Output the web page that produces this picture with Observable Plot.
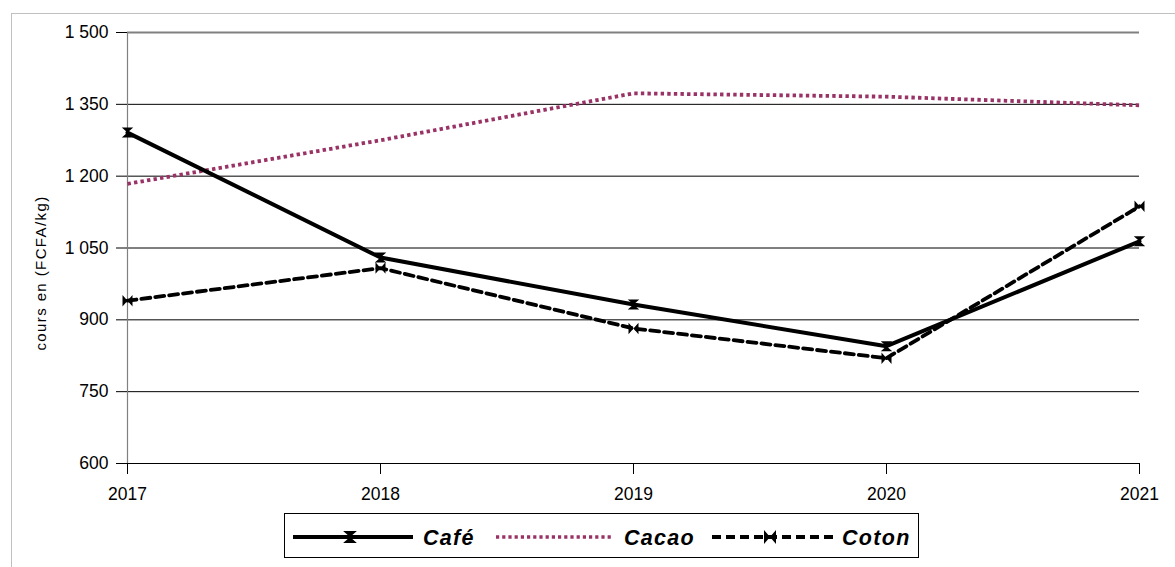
<!DOCTYPE html>
<html>
<head>
<meta charset="utf-8">
<script src="https://cdn.jsdelivr.net/npm/d3@7"></script>
<script src="https://cdn.jsdelivr.net/npm/@observablehq/plot@0.6"></script>
<style>
  html, body { margin: 0; padding: 0; background: #fff; }
  body { width: 1175px; height: 567px; overflow: hidden; position: relative; font-family: "Liberation Sans", Arial, sans-serif; }
  #frame { position: absolute; left: 11px; top: 13px; width: 1300px; height: 700px; border-left: 1px solid #c0c0c0; border-top: 1px solid #c0c0c0; }
  #chart { position: absolute; left: 0; top: 0; }
  #ytitle { position: absolute; left: 40px; top: 273px; transform: translate(-50%, -50%) rotate(-90deg); white-space: nowrap; font-size: 15px; letter-spacing: 1.4px; color: #000; }
  #legend { position: absolute; left: 284px; top: 513px; }
</style>
</head>
<body>
<div id="frame"></div>
<div id="chart"></div>
<div id="ytitle">cours en (FCFA/kg)</div>
<div id="legend"></div>
<script>
const years = [2017, 2018, 2019, 2020, 2021];
const cafe  = [1291, 1030, 932, 845, 1064];
const cacao = [1184, 1275, 1373, 1366, 1348];
const coton = [940, 1008, 882, 820, 1137];
const yTicks = [600, 750, 900, 1050, 1200, 1350, 1500];
const seriesNames = ["Café", "Cacao", "Coton"];

const fmt = d => d3.format(",")(d).replace(/,/g, " ");

// custom marker shapes
const hourglass = {
  draw(ctx, size) {
    const s = Math.sqrt(size / Math.PI);
    const w = s * 1.15;
    ctx.moveTo(-w, -s); ctx.lineTo(w, -s); ctx.lineTo(0, 0); ctx.closePath();
    ctx.moveTo(-w, s); ctx.lineTo(w, s); ctx.lineTo(0, 0); ctx.closePath();
  }
};
const bowtie = {
  draw(ctx, size) {
    const s = Math.sqrt(size / Math.PI);
    const h = s * 1.15;
    ctx.moveTo(-s, -h); ctx.lineTo(-s, h); ctx.lineTo(0, 0); ctx.closePath();
    ctx.moveTo(s, -h); ctx.lineTo(s, h); ctx.lineTo(0, 0); ctx.closePath();
  }
};

const cafeData = years.map((y, i) => ({year: y, value: cafe[i]}));
const cacaoData = years.map((y, i) => ({year: y, value: cacao[i]}));
const cotonData = years.map((y, i) => ({year: y, value: coton[i]}));

const CACAO = "#993366";

const plot = Plot.plot({
  width: 1175,
  height: 510,
  marginTop: 32,
  marginLeft: 127,
  marginRight: 36,
  marginBottom: 47,
  style: {fontFamily: "'Liberation Sans', Arial, sans-serif", fontSize: "17.5px", color: "#000", background: "transparent", overflow: "visible"},
  x: {domain: [2017, 2021], type: "linear"},
  y: {domain: [600, 1500]},
  marks: [
    Plot.gridY(yTicks.filter(d => d > 600 && d < 1500), {stroke: "#000", strokeOpacity: 1, strokeWidth: 1}),
    Plot.ruleY([600], {stroke: "#000", strokeWidth: 1}),
    Plot.ruleY([1500], {stroke: "#808080", strokeWidth: 2}),
    Plot.ruleX([2017], {stroke: "#808080", strokeWidth: 1.2}),
    Plot.axisY({ticks: yTicks, tickFormat: fmt, tickSize: 11, tickPadding: 8, label: null, stroke: "#000", strokeOpacity: 1}),
    Plot.axisX({ticks: years, tickFormat: d => String(d), tickSize: 11, tickPadding: 13, label: null, stroke: "#000", strokeOpacity: 1}),
    Plot.line(cacaoData, {x: "year", y: "value", stroke: CACAO, strokeWidth: 3.8, strokeDasharray: "3.4,3.2", strokeLinecap: "butt"}),
    Plot.line(cotonData, {x: "year", y: "value", stroke: "#000", strokeWidth: 3.8, strokeDasharray: "9,5"}),
    Plot.line(cafeData, {x: "year", y: "value", stroke: "#000", strokeWidth: 4}),
    Plot.dot(cafeData, {x: "year", y: "value", symbol: hourglass, r: 5, fill: "#000", stroke: "none"}),
    Plot.dot(cotonData, {x: "year", y: "value", symbol: bowtie, r: 5, fill: "#000", stroke: "none"})
  ]
});
document.getElementById("chart").appendChild(plot);

// legend
const L = d3.select("#legend").append("svg")
  .attr("width", 638).attr("height", 46)
  .style("overflow", "visible");
L.append("rect").attr("x", 0.5).attr("y", 0.5).attr("width", 634).attr("height", 44)
  .attr("fill", "#fff").attr("stroke", "#000").attr("stroke-width", 1);
const ly = 24;
const items = [
  {name: seriesNames[0], x0: 9, x1: 129, tx: 139, stroke: "#000", dash: null, sym: hourglass, w: 4},
  {name: seriesNames[1], x0: 212, x1: 328, tx: 340, stroke: CACAO, dash: "3.2,3", sym: null, w: 3.6},
  {name: seriesNames[2], x0: 428, x1: 550, tx: 558, stroke: "#000", dash: "9,5", sym: bowtie, w: 3.8}
];
items.forEach(it => {
  L.append("line").attr("x1", it.x0).attr("x2", it.x1).attr("y1", ly).attr("y2", ly)
    .attr("stroke", it.stroke).attr("stroke-width", it.w)
    .attr("stroke-dasharray", it.dash);
  if (it.sym) {
    L.append("path").attr("d", d3.symbol(it.sym, Math.PI * 36)())
      .attr("transform", `translate(${(it.x0 + it.x1) / 2 - 3},${ly})`).attr("fill", "#000");
  }
  L.append("text").attr("x", it.tx).attr("y", ly).attr("dy", "0.36em")
    .attr("font-family", "'Liberation Sans', Arial, sans-serif")
    .attr("font-size", 21.5).attr("font-weight", "bold").attr("font-style", "italic")
    .attr("letter-spacing", "1.3px")
    .text(it.name);
});
</script>
</body>
</html>
